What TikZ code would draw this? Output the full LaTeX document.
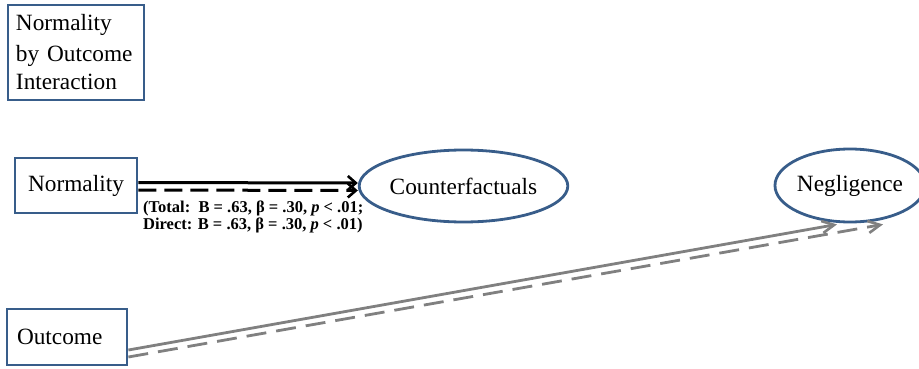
\documentclass[tikz,border=0pt]{standalone}
\usepackage{fontspec}
\setmainfont{Liberation Serif}
\usetikzlibrary{arrows.meta,shapes.geometric}
\definecolor{boxblue}{RGB}{56,93,138}
\definecolor{arrgrey}{RGB}{128,128,128}
\begin{document}
\begin{tikzpicture}[x=1pt,y=-1pt,
  box/.style={draw=boxblue,line width=2.8pt,rectangle,inner sep=0pt,font=\fontsize{23.3}{28.5}\selectfont},
  oval/.style={draw=boxblue,line width=2.8pt,ellipse,inner sep=0pt,font=\fontsize{23.3}{28.5}\selectfont},
  blk/.style={line width=3pt,black,-{Straight Barb[length=8pt,width=14pt,line width=2.6pt]}},
  gry/.style={line width=2.8pt,arrgrey,-{Straight Barb[length=12pt,width=12pt,line width=2.6pt]}},
  lab/.style={font=\fontsize{16.5}{17}\selectfont\bfseries,inner sep=0pt,align=left}]
\useasboundingbox (0,0) rectangle (919,369);
\node[box,minimum width=136pt,minimum height=95pt,text width=120pt,align=left,inner xsep=8pt,inner ysep=0pt] (inter) at (76,52.5) {\raisebox{2pt}{Normality}\\by Outcome\\Interaction};
\node[box,minimum width=122pt,minimum height=55pt] (norm) at (76,185.5) {Normality};
\node[box,minimum width=120pt,minimum height=56pt,text width=100pt,align=left,inner xsep=0pt] (out) at (67,337) {\raisebox{-4pt}{Outcome}};
\node[oval,minimum width=193pt,minimum height=72pt] (cf) at (463.5,186) {Counterfactuals};
\node[oval,minimum width=136pt,minimum height=73pt] (neg) at (850,185.5) {Negligence};
\draw[blk] ([yshift=3pt]norm.east) -- ([yshift=3pt]cf.west);
\draw[blk,dash pattern=on 18pt off 8pt] ([yshift=-4.5pt]norm.east) -- ([yshift=-4.5pt]cf.west);
\node[lab,anchor=north west] (lbl) at (143,201) {(Total:\ \ B = .63, β = .30, \textit{p} < .01;\\Direct: B = .63, β = .30, \textit{p} < .01)};
\draw[gry] ([yshift=-13pt]out.east) -- ([xshift=-13pt,yshift=-1pt]neg.south);
\draw[gry,dash pattern=on 20pt off 10pt] ([yshift=-20pt]out.east) -- ([xshift=33pt,yshift=-1pt]neg.south);
\end{tikzpicture}
\end{document}
